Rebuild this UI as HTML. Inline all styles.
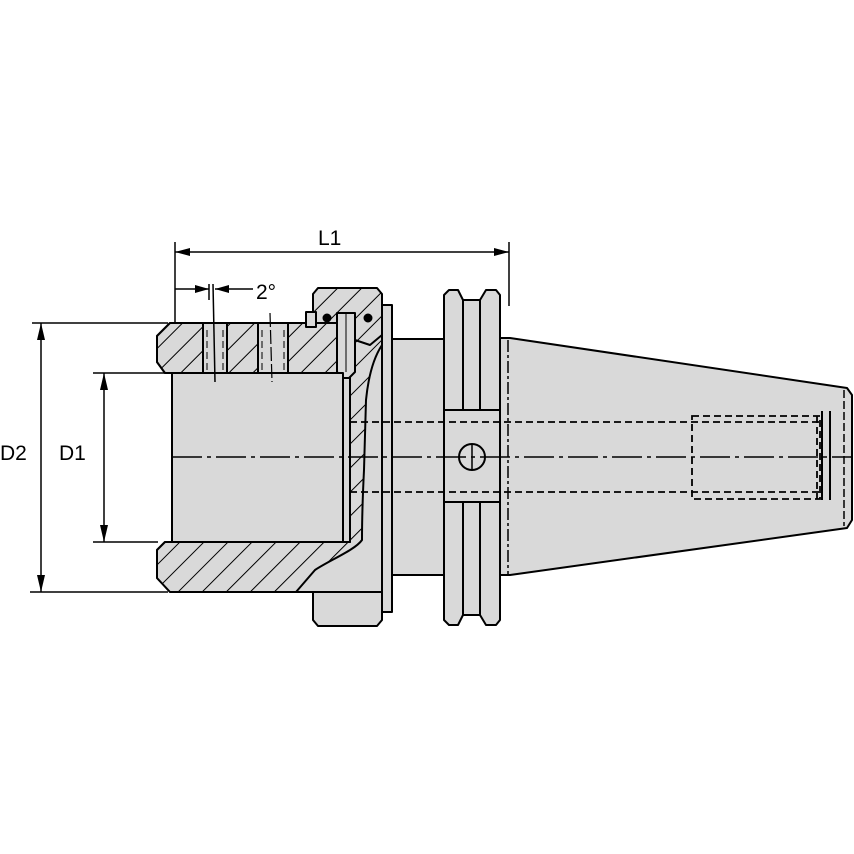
<!DOCTYPE html>
<html><head><style>html,body{margin:0;padding:0;background:#fff}svg{display:block}</style></head>
<body>
<svg width="854" height="854" viewBox="0 0 854 854" xmlns="http://www.w3.org/2000/svg" font-family="Liberation Sans, sans-serif">
<defs>
<pattern id="h" patternUnits="userSpaceOnUse" width="17" height="17" patternTransform="rotate(45)">
<rect width="17" height="17" fill="#d9d9d9"/>
<line x1="0" y1="0" x2="0" y2="17" stroke="#000" stroke-width="2"/>
</pattern>
</defs>
<g stroke="#000" stroke-width="2" stroke-linejoin="round">
<rect x="382" y="305" width="10" height="307" fill="#d9d9d9"/>
<rect x="392" y="339" width="53" height="236" fill="#d9d9d9"/>
<path d="M313,592 L382,592 L382,620 L377,626 L318,626 L313,620 Z" fill="#d9d9d9"/>
<path d="M170,323 L382,323 L382,592 L170,592 L157,578 L157,550 L165,542 L172,542 L172,373 L165,373 L157,362 L157,336 Z" fill="#d9d9d9"/>
<!-- hatched wall wrapping bore -->
<path d="M170,323 L382,323 L382,345 C372,360 368,380 366,400 L364,470 C362,510 362,530 362,540 C355,550 330,560 315,570 L296,592 L170,592 L157,578 L157,550 L165,542 L350,542 L350,378 L343,373 L165,373 L157,362 L157,336 Z" fill="url(#h)"/>
<path d="M318,288 L377,288 L382,294 L382,335 L370,345 L355,340 L338,323 L313,323 L313,294 Z" fill="url(#h)"/>
<rect x="306" y="312" width="10" height="15" fill="#d9d9d9"/>
<circle cx="327" cy="318" r="3.5" fill="#000"/>
<circle cx="368" cy="318" r="3.5" fill="#000"/>
<path d="M337,313 L355,313 L355,372 L349,378 L343,378 L337,372 Z" fill="#d9d9d9"/>
<line x1="346" y1="313" x2="346" y2="372" stroke-width="1"/>
<rect x="203" y="323" width="24" height="50" fill="#d9d9d9"/>
<rect x="258" y="323" width="30" height="50" fill="#d9d9d9"/>
<rect x="172" y="373" width="171" height="169" fill="#d9d9d9"/>
<rect x="343" y="378" width="7" height="164" fill="#d9d9d9"/>
<path d="M449,290 L458,290 L463,300 L480,300 L486,290 L496,290 L500,295 L500,620 L496,625 L486,625 L480,615 L463,615 L458,625 L449,625 L444,620 L444,295 Z" fill="#d9d9d9"/>
<line x1="463" y1="300" x2="463" y2="410"/><line x1="480" y1="300" x2="480" y2="410"/>
<line x1="463" y1="502" x2="463" y2="615"/><line x1="480" y1="502" x2="480" y2="615"/>
<line x1="444" y1="410" x2="500" y2="410"/><line x1="444" y1="502" x2="500" y2="502"/>
<circle cx="472" cy="457" r="13" fill="#d9d9d9"/>
<line x1="472" y1="444" x2="472" y2="470" stroke-width="1.5"/>
<path d="M500,338 L510,338 L847,388 L852,395 L852,520 L847,528 L510,575 L500,575 Z" fill="#d9d9d9"/>
<line x1="508" y1="340" x2="508" y2="574" stroke-width="1.5" stroke-dasharray="12,3,3,3"/>
<line x1="844" y1="390" x2="844" y2="526" stroke-width="1.5" stroke-dasharray="8,3"/>
</g>
<g stroke="#000" fill="none">
<g stroke-width="1.8" stroke-dasharray="7,4">
<line x1="350" y1="422" x2="820" y2="422"/>
<line x1="350" y1="492" x2="820" y2="492"/>
<rect x="692" y="416" width="128" height="83"/>
<line x1="817" y1="416" x2="817" y2="499"/>
<line x1="207" y1="330" x2="207" y2="372" stroke-width="1"/>
<line x1="223" y1="330" x2="223" y2="372" stroke-width="1"/>
<line x1="262" y1="330" x2="262" y2="372" stroke-width="1"/>
<line x1="284" y1="330" x2="284" y2="372" stroke-width="1"/>
</g>
<line x1="822" y1="411" x2="822" y2="500" stroke-width="2"/>
<line x1="830" y1="411" x2="830" y2="500" stroke-width="2"/>
<line x1="172" y1="457" x2="852" y2="457" stroke-width="1.5" stroke-dasharray="30,5,4,5"/>
<line x1="213" y1="284" x2="215" y2="382" stroke-width="1.5"/>
<line x1="209" y1="284" x2="209" y2="300" stroke-width="1.5"/>
<line x1="270" y1="313" x2="272" y2="382" stroke-width="1.2" stroke-dasharray="14,3"/>
<g stroke-width="1.5">
<line x1="175" y1="242" x2="175" y2="322"/>
<line x1="509" y1="242" x2="509" y2="306"/>
<line x1="175" y1="252" x2="509" y2="252"/>
<line x1="175" y1="289" x2="209" y2="289"/>
<line x1="215" y1="289" x2="253" y2="289"/>
<line x1="32" y1="323" x2="168" y2="323"/>
<line x1="30" y1="592" x2="168" y2="592"/>
<line x1="93" y1="373" x2="172" y2="373"/>
<line x1="93" y1="542" x2="158" y2="542"/>
<line x1="41" y1="323" x2="41" y2="592"/>
<line x1="104" y1="373" x2="104" y2="542"/>
</g>
</g>
<g fill="#000">
<path d="M175,252 L190,248 L190,256 Z"/>
<path d="M509,252 L494,248 L494,256 Z"/>
<path d="M209,289 L195,285 L195,293 Z"/>
<path d="M215,289 L229,285 L229,293 Z"/>
<path d="M41,323 L37,340 L45,340 Z"/>
<path d="M41,592 L37,575 L45,575 Z"/>
<path d="M104,373 L100,390 L108,390 Z"/>
<path d="M104,542 L100,525 L108,525 Z"/>
</g>
<g font-size="21" fill="#000">
<text x="318" y="245">L1</text>
<text x="256" y="299">2°</text>
<text x="0" y="460">D2</text>
<text x="59" y="460">D1</text>
</g>
</svg>
</body></html>
